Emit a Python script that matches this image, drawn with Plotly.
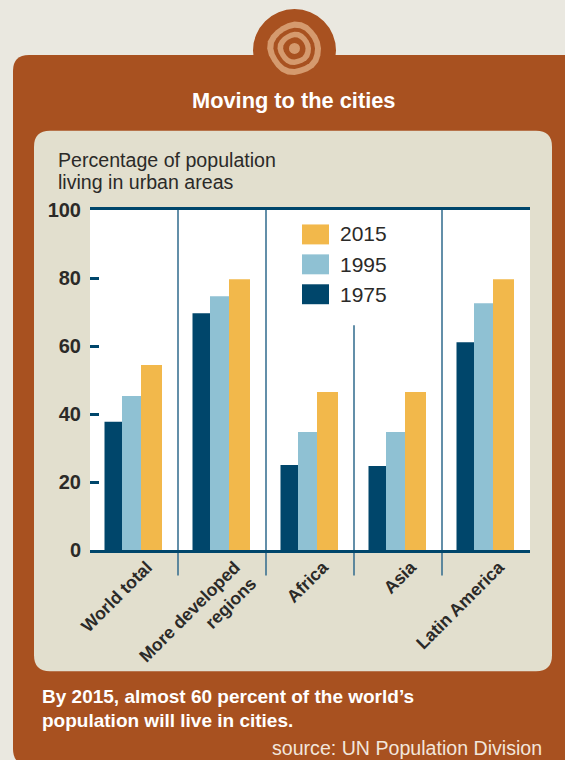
import math
import plotly.graph_objects as go

categories = ["World total", "More developed<br>regions", "Africa", "Asia", "Latin America"]
years = ["1975", "1995", "2015"]
v1975 = [37.7, 69.6, 25.0, 24.7, 61.1]
v1995 = [45.3, 74.6, 34.7, 34.7, 72.6]
v2015 = [54.4, 79.6, 46.5, 46.5, 79.6]
y_ticks = [0, 20, 40, 60, 80, 100]

W, H = 565, 760
L, R, T, B = 90, 530, 209.5, 550.5
NAVY = "#00466B"; BLUE = "#8FC1D3"; GOLD = "#F2B84B"
BROWN = "#A85120"; PANEL = "#E2DFCE"; BG = "#EAE8E0"; RING = "#D59A6E"
DIV = "#2F6A8C"; INK = "#2B2A28"
FONT = "Liberation Sans"

def px(x): return (x - L) / (R - L)
def py(y): return (B - y) / (B - T)

def rrect(x0, y0, x1, y1, r):
    return (f"M{px(x0+r)},{py(y0)} L{px(x1-r)},{py(y0)} "
            f"Q{px(x1)},{py(y0)} {px(x1)},{py(y0+r)} L{px(x1)},{py(y1-r)} "
            f"Q{px(x1)},{py(y1)} {px(x1-r)},{py(y1)} L{px(x0+r)},{py(y1)} "
            f"Q{px(x0)},{py(y1)} {px(x0)},{py(y1-r)} L{px(x0)},{py(y0+r)} "
            f"Q{px(x0)},{py(y0)} {px(x0+r)},{py(y0)} Z")

def circ(cx, cy, r, color):
    return dict(type="circle", xref="paper", yref="paper", layer="below",
                x0=px(cx-r), x1=px(cx+r), y0=py(cy+r), y1=py(cy-r),
                fillcolor=color, line_width=0)

def path(d, color):
    return dict(type="path", xref="paper", yref="paper", layer="below", path=d,
                fillcolor=color, line_width=0)

def rect(x0, y0, x1, y1, color, layer="below"):
    return dict(type="rect", xref="paper", yref="paper", layer=layer,
                x0=px(x0), x1=px(x1), y0=py(y1), y1=py(y0), fillcolor=color, line_width=0)

# hand-drawn look of the emblem: radius factor around the ring
WOBBLE = [1.0, 1.01, 1.03, 1.02, 0.99, 0.98, 1.0, 1.02, 1.01, 0.98, 0.97, 1.0,
          1.03, 1.04, 1.01, 0.98, 0.97, 0.99, 1.02, 1.03, 1.01, 0.98, 0.98, 0.99]

def blob(cx, cy, r, color):
    pts = []
    for i, f in enumerate(WOBBLE):
        a = 2 * math.pi * i / len(WOBBLE)
        pts.append(f"{px(cx + r * f * math.cos(a))},{py(cy + r * f * math.sin(a))}")
    return path("M" + " L".join(pts) + " Z", color)

shapes = [
    circ(294.5, 49.5, 41.5, BROWN),
    path(rrect(13, 54, 640, 766, 16), BROWN),
    blob(294.5, 47.5, 26.5, RING), blob(294.5, 47.5, 20.5, BROWN),
    blob(294.5, 47.5, 16.5, RING), blob(294.5, 47.5, 11, BROWN),
    circ(294.5, 47.5, 5.5, RING),
    path(rrect(34, 130, 552, 672, 16), PANEL),
    rect(L, T, R, B, "#FFFFFF"),
]
# dividers between the categories
for xv, top in [(0.5, 209.5), (1.5, 209.5), (2.5, 325), (3.5, 209.5)]:
    shapes.append(dict(type="line", xref="x", yref="paper", layer="below", x0=xv, x1=xv,
                       y0=py(576), y1=py(top), line=dict(color=DIV, width=1.5)))
# legend swatches
for yy, c in [(224, GOLD), (254, BLUE), (284, NAVY)]:
    shapes.append(rect(302, yy, 329, yy + 20, c))

def txt(x, y, s, size, color, bold=False, anchor="left"):
    return dict(xref="paper", yref="paper", x=px(x), y=py(y), text=f"<b>{s}</b>" if bold else s,
                showarrow=False, xanchor=anchor, yanchor="middle",
                font=dict(family=FONT, size=size, color=color))

annotations = [
    txt(293, 100, "Moving to the cities", 21.8, "#FFFFFF", True, "center"),
    txt(56, 159, "Percentage of population", 19.6, INK),
    txt(56, 181, "living in urban areas", 19.6, INK),
    txt(338, 233, years[2], 21, INK),
    txt(338, 264, years[1], 21, INK),
    txt(338, 294, years[0], 21, INK),
    txt(40, 697, "By 2015, almost 60 percent of the world’s", 19, "#FFFFFF", True),
    txt(40, 721, "population will live in cities.", 19, "#FFFFFF", True),
    txt(270, 749, "source: UN Population Division", 19.6, "#F2E6DC"),
]

fig = go.Figure()
for vals, name, color, off, wid in [(v1975, years[0], NAVY, -29.5/88, 17.5/88),
                                    (v1995, years[1], BLUE, -12/88, 19/88),
                                    (v2015, years[2], GOLD, 7/88, 21/88)]:
    fig.add_trace(go.Bar(x=categories, y=vals, name=name, marker=dict(color=color, line_width=0),
                         offset=off, width=wid))

fig.update_layout(
    width=W, height=H, barmode="overlay", showlegend=False,
    margin=dict(l=L, r=W-R, t=T, b=H-B, pad=0),
    paper_bgcolor=BG, plot_bgcolor="rgba(0,0,0,0)",
    shapes=shapes, annotations=annotations,
    xaxis=dict(type="category", range=[-0.5, 4.5], showline=True, linecolor=NAVY, linewidth=3,
               mirror=True, ticks="", tickangle=-45, showgrid=False, ticklabelshift=13,
               ticklabelstandoff=-3,
               tickfont=dict(family=FONT, size=17.6, color=INK, weight="bold")),
    yaxis=dict(range=[0, 100], tickvals=y_ticks, ticks="inside", ticklen=9, tickwidth=3,
               tickcolor=NAVY, showgrid=False, zeroline=False, showline=False,
               ticklabelstandoff=8,
               tickfont=dict(family=FONT, size=20, color=INK, weight="bold")),
)
fig.write_html("out.html", config=dict(displayModeBar=False),
               post_script="document.body.style.margin='0';")
